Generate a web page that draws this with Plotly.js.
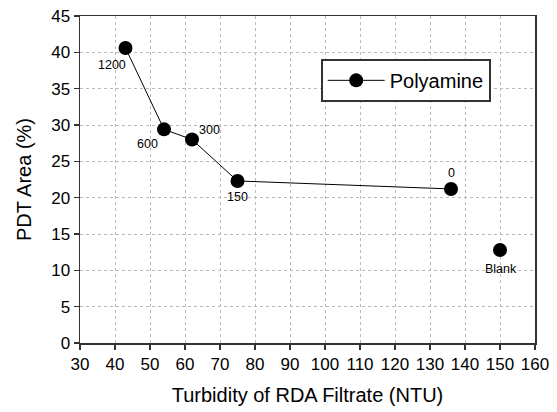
<!DOCTYPE html>
<html>
<head>
<meta charset="utf-8">
<script src="https://cdn.plot.ly/plotly-3.0.1.min.js"></script>
<style>html,body{margin:0;padding:0;background:#fff}#chart{width:557px;height:412px}</style>
</head>
<body>
<div id="chart"></div>
<script>
// Data
const seriesName = "Polyamine";
const turbidity = [43, 54, 62, 75, 136];
const pdtArea = [40.6, 29.4, 28.0, 22.3, 21.2];
const doseLabels = ["1200", "600", "300", "150", "0"];
const blankX = [150];
const blankY = [12.8];
const blankLabel = ["Blank"];

// label offsets in pixels (style only)
const labelOffsets = [[-14, 17], [-17, 15], [17, -10], [0, 16], [0, -16]];
const blankOffset = [[1, 19]];

const FONT = "Liberation Sans, Arial, sans-serif";

const traces = [
  {
    x: turbidity, y: pdtArea, name: seriesName, type: "scatter", mode: "lines+markers",
    line: {color: "#000", width: 1},
    marker: {color: "#000", size: 14},
    showlegend: true
  },
  {
    x: blankX, y: blankY, name: "Blank", type: "scatter", mode: "markers",
    marker: {color: "#000", size: 14},
    showlegend: false
  }
];

const annotations = [];
turbidity.forEach((x, i) => {
  annotations.push({x: x, y: pdtArea[i], text: doseLabels[i], showarrow: false,
    xshift: labelOffsets[i][0], yshift: -labelOffsets[i][1],
    font: {family: FONT, size: 12.5, color: "#000"}});
});
blankX.forEach((x, i) => {
  annotations.push({x: x, y: blankY[i], text: blankLabel[i], showarrow: false,
    xshift: blankOffset[i][0], yshift: -blankOffset[i][1],
    font: {family: FONT, size: 12.5, color: "#000"}});
});

const axisCommon = {
  showline: true, linecolor: "#333", linewidth: 1.5, mirror: true,
  ticks: "outside", ticklen: 5, tickcolor: "#333", tickwidth: 1.5,
  showgrid: true, gridcolor: "#bbb", gridwidth: 1, griddash: "dot",
  zeroline: false,
  tickfont: {family: FONT, size: 17, color: "#000"}
};

const layout = {
  width: 557, height: 412,
  margin: {l: 80, r: 22, t: 16, b: 69},
  paper_bgcolor: "#fff", plot_bgcolor: "#fff",
  font: {family: FONT, color: "#000"},
  showlegend: true,
  legend: {
    x: 0.529, y: 0.869, xanchor: "left", yanchor: "top",
    bgcolor: "#fff", bordercolor: "#333", borderwidth: 2,
    itemwidth: 57,
    font: {family: FONT, size: 20, color: "#000"}
  },
  xaxis: Object.assign({}, axisCommon, {
    range: [30, 160], tickmode: "linear", tick0: 30, dtick: 10,
    title: {text: "Turbidity of RDA Filtrate (NTU)", standoff: 15,
      font: {family: FONT, size: 20, color: "#000"}}
  }),
  yaxis: Object.assign({}, axisCommon, {
    range: [0, 45], tickmode: "linear", tick0: 0, dtick: 5,
    title: {text: "PDT Area (%)", standoff: 14,
      font: {family: FONT, size: 20, color: "#000"}}
  }),
  annotations: annotations
};

Plotly.newPlot("chart", traces, layout, {displayModeBar: false, staticPlot: true});
</script>
</body>
</html>
